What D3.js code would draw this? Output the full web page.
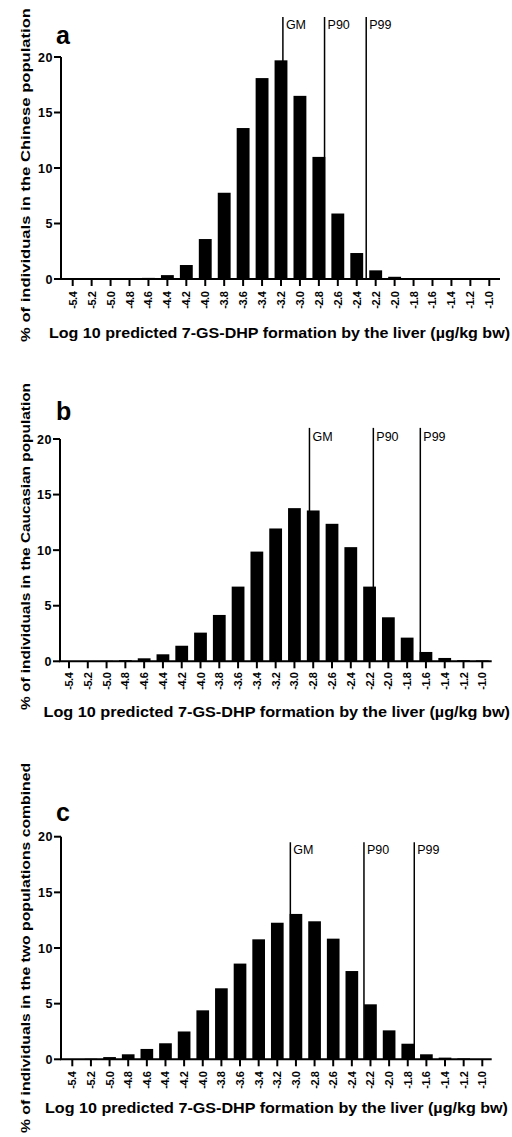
<!DOCTYPE html>
<html>
<head>
<meta charset="utf-8">
<script src="https://cdn.jsdelivr.net/npm/d3@7"></script>
<style>
  body { margin: 0; background: #fff; }
  svg { display: block; font-family: "Liberation Sans", Arial, sans-serif; }
</style>
</head>
<body>
<svg id="chart" width="512" height="1137"></svg>
<script>
// log10 bins of predicted 7-GS-DHP formation
const categories = [-5.4, -5.2, -5.0, -4.8, -4.6, -4.4, -4.2, -4.0, -3.8, -3.6, -3.4, -3.2,
                    -3.0, -2.8, -2.6, -2.4, -2.2, -2.0, -1.8, -1.6, -1.4, -1.2, -1.0];
const yTicks = [0, 5, 10, 15, 20];

// % of individuals per bin
const chineseValues   = [0, 0, 0, 0.05, 0.1, 0.35, 1.26, 3.6, 7.77, 13.6, 18.1, 19.7,
                         16.5, 11.0, 5.9, 2.34, 0.78, 0.2, 0.08, 0, 0, 0, 0];
const caucasianValues = [0, 0, 0.05, 0.1, 0.27, 0.63, 1.4, 2.58, 4.17, 6.72, 9.87, 11.95,
                         13.78, 13.57, 12.37, 10.27, 6.72, 3.96, 2.13, 0.84, 0.3, 0.1, 0.08];
const combinedValues  = [0, 0.05, 0.2, 0.45, 0.93, 1.44, 2.5, 4.4, 6.38, 8.6, 10.78, 12.27,
                         13.06, 12.4, 10.84, 7.93, 4.94, 2.6, 1.4, 0.45, 0.15, 0.08, 0];

// GM / P90 / P99 positions (log10 units) and how high the marker lines reach (% units)
const markerLabels     = ['GM', 'P90', 'P99'];
const chineseMarkers   = [-3.18, -2.74, -2.30];
const caucasianMarkers = [-2.84, -2.16, -1.66];
const combinedMarkers  = [-3.06, -2.27, -1.73];
const markerTops       = [23.6, 21.0, 19.5];

const xTitle = 'Log 10 predicted 7-GS-DHP formation by the liver (\u00b5g/kg bw)';
const yTitles = ['% of individuals in the Chinese population',
                 '% of individuals in the Caucasian population',
                 '% of individuals in the two populations combined'];
const panelLetters = ['a', 'b', 'c'];

const svg = d3.select('#chart');

// layout of each panel, in pixels
const panels = [
  { axisX: 61, tick0: 72.7, tick1: 489.3, axisEnd: 500, y0: 279, y20: 57,
    letterY: 44, yTitleMid: 175, yLen: 334, xTitleY: 338, xTitleX: [49, 510], labelGap: 12.7,
    values: chineseValues, markers: chineseMarkers, labelDy: 12 },
  { axisX: 60, tick0: 69, tick1: 482.3, axisEnd: 491.7, y0: 661.3, y20: 439,
    letterY: 420, yTitleMid: 546.5, yLen: 327, xTitleY: 716.7, xTitleX: [43.5, 510], labelGap: 11.4,
    values: caucasianValues, markers: caucasianMarkers, labelDy: 13.5 },
  { axisX: 61, tick0: 72.3, tick1: 482.3, axisEnd: 491.7, y0: 1059.3, y20: 836.7,
    letterY: 821, yTitleMid: 948, yLen: 370, xTitleY: 1113.3, xTitleX: [45, 508], labelGap: 12.4,
    values: combinedValues, markers: combinedMarkers, labelDy: 12 }
];

panels.forEach((p, pi) => {
  const g = svg.append('g');

  const x = d3.scaleLinear()
    .domain([categories[0], categories[categories.length - 1]])
    .range([p.tick0, p.tick1]);
  const y = d3.scaleLinear().domain([0, 20]).range([p.y0, p.y20]);
  const step = (p.tick1 - p.tick0) / (categories.length - 1);
  const barW = step * 0.68;

  // bars
  g.selectAll('rect.bar')
    .data(p.values)
    .enter()
    .append('rect')
    .attr('class', 'bar')
    .attr('x', (d, i) => x(categories[i]) - barW / 2)
    .attr('width', barW)
    .attr('y', d => y(d))
    .attr('height', d => p.y0 - y(d))
    .style('fill', '#000');

  // marker lines
  p.markers.forEach((m, mi) => {
    g.append('line')
      .attr('x1', x(m)).attr('x2', x(m))
      .attr('y1', y(markerTops[pi])).attr('y2', p.y0)
      .style('stroke', '#000')
      .style('stroke-width', 1.5);
    g.append('text')
      .attr('x', x(m) + 3)
      .attr('y', y(markerTops[pi]) + p.labelDy)
      .style('font-size', '12.5px')
      .text(markerLabels[mi]);
  });

  // y axis
  g.append('line')
    .attr('x1', p.axisX).attr('x2', p.axisX)
    .attr('y1', y(20)).attr('y2', p.y0)
    .style('stroke', '#000').style('stroke-width', 2);
  yTicks.forEach(t => {
    g.append('line')
      .attr('x1', p.axisX - 7).attr('x2', p.axisX)
      .attr('y1', y(t)).attr('y2', y(t))
      .style('stroke', '#000').style('stroke-width', 2);
    g.append('text')
      .attr('x', p.axisX - 8)
      .attr('y', y(t) + 4.5)
      .attr('text-anchor', 'end')
      .style('font-size', '12.5px')
      .style('font-weight', 'bold')
      .style('letter-spacing', '0.6px')
      .text(t);
  });

  // x axis
  g.append('line')
    .attr('x1', p.axisX - 1).attr('x2', p.axisEnd)
    .attr('y1', p.y0).attr('y2', p.y0)
    .style('stroke', '#000').style('stroke-width', 2);
  categories.forEach(c => {
    g.append('line')
      .attr('x1', x(c)).attr('x2', x(c))
      .attr('y1', p.y0).attr('y2', p.y0 + 7)
      .style('stroke', '#000').style('stroke-width', 2);
    g.append('text')
      .attr('transform', `translate(${x(c) + 4},${p.y0 + p.labelGap}) rotate(-90)`)
      .attr('text-anchor', 'end')
      .style('font-size', '11px')
      .style('font-weight', 'bold')
      .style('letter-spacing', '-0.5px')
      .text(c.toFixed(1));
  });

  // titles
  g.append('text')
    .attr('x', p.xTitleX[0])
    .attr('y', p.xTitleY)
    .attr('textLength', p.xTitleX[1] - p.xTitleX[0])
    .attr('lengthAdjust', 'spacingAndGlyphs')
    .style('font-size', '14px')
    .style('font-weight', 'bold')
    .text(xTitle);

  g.append('text')
    .attr('transform', `translate(29.5,${p.yTitleMid}) rotate(-90)`)
    .attr('x', -p.yLen / 2)
    .attr('textLength', p.yLen)
    .attr('lengthAdjust', 'spacingAndGlyphs')
    .style('font-size', '13.5px')
    .style('font-weight', 'bold')
    .text(yTitles[pi]);

  g.append('text')
    .attr('x', 56)
    .attr('y', p.letterY)
    .style('font-size', '25px')
    .style('font-weight', 'bold')
    .text(panelLetters[pi]);
});
</script>
</body>
</html>
